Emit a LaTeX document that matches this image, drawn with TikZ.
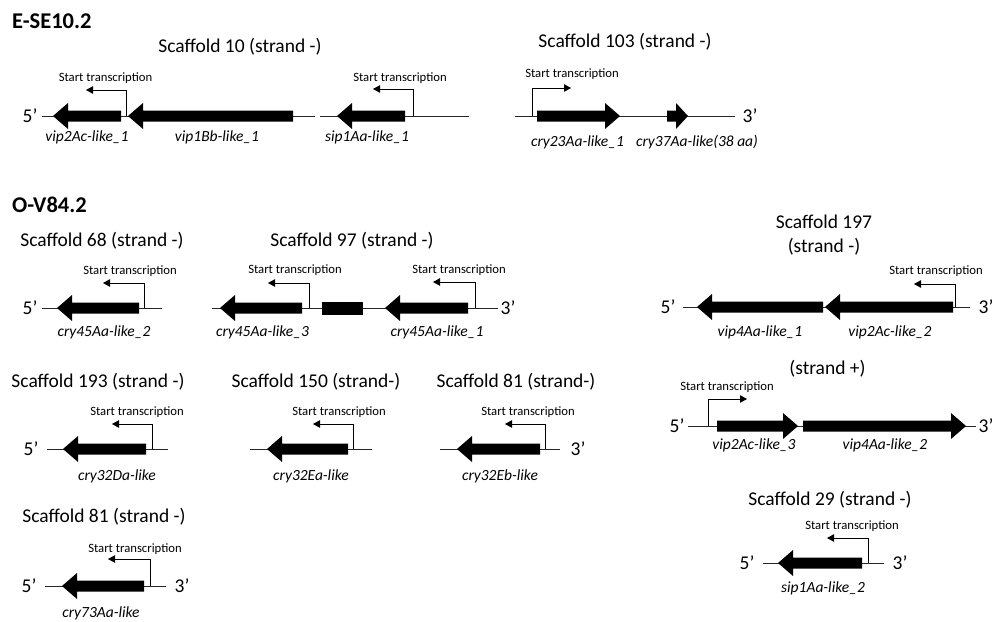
\documentclass[tikz,border=0pt]{standalone}
\usepackage{fontspec}
\setmainfont{Carlito}
\usetikzlibrary{arrows.meta}
\tikzset{
  dna/.style={draw=black!85, line width=0.9pt},
  prom/.style={draw=black, line width=0.8pt, -{Triangle[length=7pt,width=7.5pt]}},
  genefill/.style={fill=black},
  sectitle/.style={font=\fontsize{22.5}{27}\selectfont\bfseries, anchor=west, inner sep=0pt},
  scaf/.style={font=\fontsize{19.5}{24}\selectfont, inner sep=0pt},
  start/.style={font=\fontsize{12.7}{15}\selectfont, inner sep=0pt},
  gname/.style={font=\fontsize{15.5}{18}\selectfont\itshape, inner sep=0pt},
  prime/.style={font=\fontsize{19.5}{24}\selectfont, inner sep=0pt},
}
% leftward gene: name, tip x, end x, y
\newcommand\gminus[4]{\fill[genefill] (#2,#4) coordinate (#1tip) -- (#2+15,#4-13) -- (#2+15,#4-5.5) -- (#3,#4-5.5) -- (#3,#4+5.5) -- (#2+15,#4+5.5) -- (#2+15,#4+13) -- cycle;}
% rightward gene: name, start x, tip x, y
\newcommand\gplus[4]{\fill[genefill] (#2,#4-5.5) -- (#3-15,#4-5.5) -- (#3-15,#4-13) -- (#3,#4) coordinate (#1tip) -- (#3-15,#4+13) -- (#3-15,#4+5.5) -- (#2,#4+5.5) -- cycle;}
\begin{document}
\begin{tikzpicture}[x=1pt,y=-1pt]
\useasboundingbox (0,0) rectangle (995,621);

% ===================== E-SE10.2 =====================
\node[sectitle] (tE) at (12,21) {E-SE10.2};
\node[scaf] (s10) at (240,47) {Scaffold 10 (strand -)};
\node[prime] (s10p5) at (30,116) {5’};
\draw[dna] (42,116) coordinate (s10a) -- (315,116) coordinate (s10b);
\draw[dna] (320,116) coordinate (s10c) -- (469,116) coordinate (s10d);
\gminus{vipA}{53}{121}{116}
\gminus{vipB}{128}{293}{116}
\gminus{sipA}{337}{405}{116}
\draw[prom] (126,116) coordinate (p10a) |- (86,90) coordinate (p10at);
\draw[prom] (413,116) coordinate (p10b) |- (373,89) coordinate (p10bt);
\node[start] (st10a) at (105.5,78) {Start transcription};
\node[start] (st10b) at (400,78) {Start transcription};
\node[gname] (l10a) at (87,137) {vip2Ac-like\_1};
\node[gname] (l10b) at (217,137) {vip1Bb-like\_1};
\node[gname] (l10c) at (367,137) {sip1Aa-like\_1};

% Scaffold 103
\node[scaf] (s103) at (625,42) {Scaffold 103 (strand -)};
\draw[dna] (515,116) coordinate (s103a) -- (735,116) coordinate (s103b);
\node[prime] (s103p3) at (750,116) {3’};
\gplus{cryA}{537}{620}{116}
\fill[genefill] (667,110.5) -- (676,110.5) -- (676,103) -- (688,116) coordinate (cryBtip) -- (676,129) -- (676,121.5) -- (667,121.5) -- cycle;
\draw[prom] (532,116) coordinate (p103) |- (571,88) coordinate (p103t);
\node[start] (st103) at (572,74) {Start transcription};
\node[gname] (l103a) at (577.5,142) {cry23Aa-like\_1};
\node[gname] (l103b) at (697,142) {cry37Aa-like(38 aa)};

% ===================== O-V84.2 =====================
\node[sectitle] (tO) at (12,205) {O-V84.2};

% Scaffold 68
\node[scaf] (s68) at (102,241) {Scaffold 68 (strand -)};
\node[prime] (s68p5) at (30,308) {5’};
\draw[dna] (42,308) coordinate (s68a) -- (162,308) coordinate (s68b);
\gminus{c68}{57}{139}{308}
\draw[prom] (144,308) coordinate (p68) |- (103,283) coordinate (p68t);
\node[start] (st68) at (130,271) {Start transcription};
\node[gname] (l68) at (104,332) {cry45Aa-like\_2};

% Scaffold 97
\node[scaf] (s97) at (352,241) {Scaffold 97 (strand -)};
\draw[dna] (212,308) coordinate (s97a) -- (498,308) coordinate (s97b);
\node[prime] (s97p3) at (508,308) {3’};
\gminus{c97a}{220}{302}{308}
\fill[genefill] (322,301.5) rectangle (363,314.5);
\gminus{c97b}{385}{468}{308}
\draw[prom] (309,308) coordinate (p97a) |- (268,283) coordinate (p97at);
\draw[prom] (475,308) coordinate (p97b) |- (433,282) coordinate (p97bt);
\node[start] (st97a) at (295,270) {Start transcription};
\node[start] (st97b) at (459,270) {Start transcription};
\node[gname] (l97a) at (262.5,332) {cry45Aa-like\_3};
\node[gname] (l97b) at (437,332) {cry45Aa-like\_1};

% Scaffold 197
\node[scaf, align=center] (s197) at (824,235) {Scaffold 197\\(strand -)};
\node[prime] (s197p5) at (668,307) {5’};
\draw[dna] (683,307) coordinate (s197a) -- (970,307) coordinate (s197b);
\node[prime] (s197p3) at (986,307) {3’};
\gminus{v4a}{697}{823}{307}
\gminus{v2c}{825}{953}{307}
\draw[prom] (955,307) coordinate (p197) |- (914,284) coordinate (p197t);
\node[start] (st197) at (936,271) {Start transcription};
\node[gname] (l197a) at (760,332) {vip4Aa-like\_1};
\node[gname] (l197b) at (890,332) {vip2Ac-like\_2};

% strand +
\node[scaf] (sp) at (827.5,369) {(strand +)};
\node[prime] (spp5) at (677,426) {5’};
\draw[dna] (688,426) coordinate (spa) -- (976,426) coordinate (spb);
\node[prime] (spp3) at (986,426) {3’};
\gplus{v2c3}{717}{798}{426}
\gplus{v4a2}{803}{966}{426}
\draw[prom] (708,426) coordinate (psp) |- (747,399) coordinate (pspt);
\node[start] (stsp) at (727,387) {Start transcription};
\node[gname] (lspa) at (754,445) {vip2Ac-like\_3};
\node[gname] (lspb) at (885,445) {vip4Aa-like\_2};

% Scaffold 193
\node[scaf] (s193) at (98,382) {Scaffold 193 (strand -)};
\node[prime] (s193p5) at (31,449) {5’};
\draw[dna] (47,449) coordinate (s193a) -- (168,449) coordinate (s193b);
\gminus{c193}{63}{146}{449}
\draw[prom] (152,449) coordinate (p193) |- (112,424) coordinate (p193t);
\node[start] (st193) at (137,412) {Start transcription};
\node[gname] (l193) at (117,476) {cry32Da-like};

% Scaffold 150
\node[scaf] (s150) at (316,382) {Scaffold 150 (strand-)};
\draw[dna] (250,449) coordinate (s150a) -- (372,449) coordinate (s150b);
\gminus{c150}{267}{348}{449}
\draw[prom] (353,449) coordinate (p150) |- (313,424) coordinate (p150t);
\node[start] (st150) at (339,412) {Start transcription};
\node[gname] (l150) at (311,476) {cry32Ea-like};

% Scaffold 81 (strand-)
\node[scaf] (s81a) at (516,382) {Scaffold 81 (strand-)};
\draw[dna] (440,449) coordinate (s81aa) -- (560,449) coordinate (s81ab);
\node[prime] (s81ap3) at (578,449) {3’};
\gminus{c81}{457}{540}{449}
\draw[prom] (545,449) coordinate (p81) |- (505,424) coordinate (p81t);
\node[start] (st81) at (528,412) {Start transcription};
\node[gname] (l81) at (500,476) {cry32Eb-like};

% Scaffold 81 (strand -) bottom
\node[scaf] (s81b) at (104,517) {Scaffold 81 (strand -)};
\node[prime] (s81bp5) at (29,586) {5’};
\draw[dna] (45,586) coordinate (s81ba) -- (166,586) coordinate (s81bb);
\node[prime] (s81bp3) at (182,586) {3’};
\gminus{c73}{62}{144}{586}
\draw[prom] (150,586) coordinate (p73) |- (108,559) coordinate (p73t);
\node[start] (st73) at (135,549) {Start transcription};
\node[gname] (l73) at (101,613) {cry73Aa-like};

% Scaffold 29
\node[scaf] (s29) at (830,500) {Scaffold 29 (strand -)};
\node[prime] (s29p5) at (747,563) {5’};
\draw[dna] (763,563) coordinate (s29a) -- (884,563) coordinate (s29b);
\node[prime] (s29p3) at (900,563) {3’};
\gminus{s1a2}{778}{862}{563}
\draw[prom] (868,563) coordinate (p29) |- (827,538) coordinate (p29t);
\node[start] (st29) at (852,526) {Start transcription};
\node[gname] (l29) at (823,588) {sip1Aa-like\_2};
\end{tikzpicture}
\end{document}
